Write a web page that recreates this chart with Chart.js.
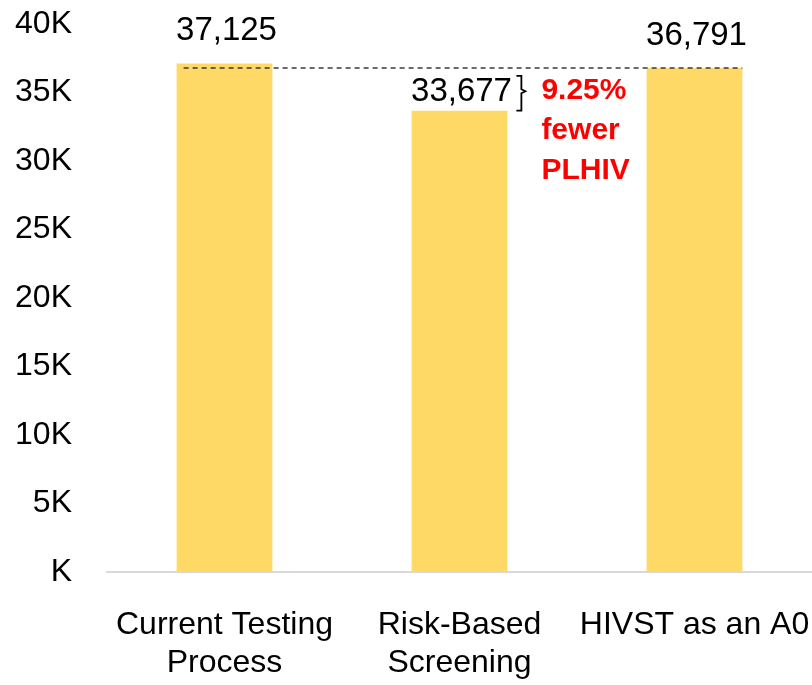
<!DOCTYPE html>
<html lang="en">
<head>
  <meta charset="UTF-8">
  <title>PLHIV identified by testing strategy</title>
  <style>
    body { margin: 0; background: #fff; }
    .wrap { width: 812px; height: 685px; position: relative; }
  </style>
</head>
<body>
  <div class="wrap">
    <canvas id="grafico"></canvas>
  </div>

  <script src="https://cdn.jsdelivr.net/npm/chart.js"></script>
  <script>
    // data
    const categorias = [['Current Testing', 'Process'], ['Risk-Based', 'Screening'], ['HIVST as an A0']];
    const valores = [37125, 33677, 36791];
    const nota = ['9.25%', 'fewer', 'PLHIV'];
    const yMax = 40000;
    const yStep = 5000;

    const fonte = '"Liberation Sans", Arial, sans-serif';

    // value labels above each bar, plus the dashed reference line and bracket note
    const anotacoes = {
      id: 'anotacoes',
      afterDatasetsDraw(chart) {
        const ctx = chart.ctx;
        const barras = chart.getDatasetMeta(0).data;
        const y = chart.scales.y;

        // dashed line at the level of the last bar
        const b1 = barras[0], b2 = barras[1], b3 = barras[2];
        const yRef = y.getPixelForValue(valores[2]);
        ctx.save();
        ctx.strokeStyle = '#3a3a3a';
        ctx.lineWidth = 1.5;
        ctx.setLineDash([5, 4]);
        ctx.beginPath();
        ctx.moveTo(b1.x - b1.width / 2 + 7, yRef);
        ctx.lineTo(b3.x + b3.width / 2, yRef);
        ctx.stroke();
        ctx.restore();

        // labels
        const lift = [33, 20, 33];
        ctx.save();
        ctx.fillStyle = '#000';
        ctx.font = '33px ' + fonte;
        ctx.textAlign = 'center';
        ctx.textBaseline = 'middle';
        barras.forEach((b, i) => {
          ctx.fillText(valores[i].toLocaleString('en-US'), b.x + 2, b.y - lift[i] + 1);
        });
        ctx.restore();

        // bracket between bar 2 top and reference line
        const bx = b2.x + b2.width / 2 + 9;
        const top = yRef + 8;
        const bot = b2.y;
        const mid = (top + bot) / 2 - 2;
        ctx.save();
        ctx.strokeStyle = '#000';
        ctx.lineWidth = 1.8;
        ctx.beginPath();
        ctx.moveTo(bx, top);
        ctx.lineTo(bx + 5, top);
        ctx.lineTo(bx + 5, mid - 2);
        ctx.lineTo(bx + 9, mid);
        ctx.lineTo(bx + 5, mid + 2);
        ctx.lineTo(bx + 5, bot);
        ctx.lineTo(bx, bot);
        ctx.stroke();

        ctx.fillStyle = '#FF0000';
        ctx.font = 'bold 30px ' + fonte;
        ctx.textAlign = 'left';
        ctx.textBaseline = 'middle';
        nota.forEach((t, i) => {
          ctx.fillText(t, bx + 25, top + 15 + i * 40);
        });
        ctx.restore();
      }
    };

    const ctx = document.getElementById('grafico').getContext('2d');
    new Chart(ctx, {
      type: 'bar',
      data: {
        labels: categorias,
        datasets: [{
          data: valores,
          backgroundColor: '#FFD966',
          borderWidth: 0,
          barPercentage: 0.815,
          categoryPercentage: 0.5
        }]
      },
      options: {
        responsive: true,
        maintainAspectRatio: false,
        animation: false,
        layout: { padding: { top: 24, right: 0, bottom: 0, left: 0 } },
        plugins: {
          legend: { display: false },
          tooltip: { enabled: false }
        },
        scales: {
          x: {
            grid: { display: false, drawTicks: false },
            border: { display: true, color: '#D9D9D9', width: 2 },
            afterFit(scale) {
              scale.height = 113;
              scale.paddingLeft = 0;
              scale.paddingRight = 0;
            },
            ticks: {
              color: '#000',
              font: { family: fonte, size: 32, lineHeight: 1.19 },
              padding: 34,
              maxRotation: 0,
              autoSkip: false
            }
          },
          y: {
            min: 0,
            max: yMax,
            grid: { display: false, drawTicks: false },
            border: { display: false },
            afterFit(scale) {
              scale.width = 107;
              scale.paddingTop = 0;
              scale.paddingBottom = 0;
            },
            ticks: {
              stepSize: yStep,
              color: '#000',
              font: { family: fonte, size: 32 },
              padding: 35,
              callback: v => (v === 0 ? '' : v / 1000) + 'K'
            }
          }
        }
      },
      plugins: [anotacoes]
    });
  </script>
</body>
</html>
